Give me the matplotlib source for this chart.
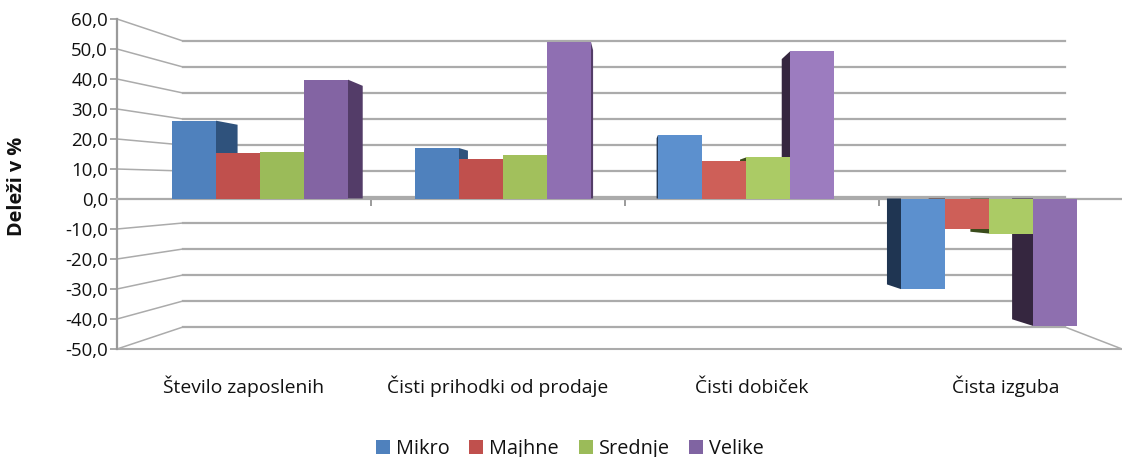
import matplotlib
matplotlib.use("Agg")
import matplotlib.pyplot as plt
from matplotlib.patches import Polygon, Patch

categories = ["Število zaposlenih", "Čisti prihodki od prodaje", "Čisti dobiček", "Čista izguba"]
series_names = ["Mikro", "Majhne", "Srednje", "Velike"]
mikro = [27.3, 17.7, 22.3, -31.8]
majhne = [16.1, 14.0, 13.0, -10.7]
srednje = [16.3, 15.4, 14.4, -12.3]
velike = [41.7, 54.9, 51.6, -44.7]
y_ticks = [60, 50, 40, 30, 20, 10, 0, -10, -20, -30, -40, -50]

legend_colors = ["#4F81BD", "#C0504D", "#9BBB59", "#8064A2"]
face_colors = [
    ["#4F81BD", "#4F81BD", "#5C90CE", "#5C90CE"],
    ["#C0504D", "#C0504D", "#CE5F58", "#CE5F58"],
    ["#9BBB59", "#A2C05C", "#ABCB65", "#ABCB65"],
    ["#8364A3", "#8F6FB2", "#9C7CBF", "#8E6FAF"],
]
side_colors = [
    ["#2F527C", "#2F527C", "#1F3552", "#1F3552"],
    ["#7C2F2D", "#7C2F2D", "#4A2220", "#4A2220"],
    ["#5F7A30", "#5F7A30", "#3A4C1C", "#3A4C1C"],
    ["#533C68", "#533C68", "#35263F", "#35263F"],
]

W, H = 1122, 457
plt.rcParams["font.family"] = ["Open Sans", "DejaVu Sans"]
fig = plt.figure(figsize=(W / 100, H / 100), dpi=100)

GRID = "#ABABAB"
L, R = 117, 1122
TOP, BOT = 19, 349
BACK_L, BACK_R = 183, 1065
BACK_ZERO, BACK_K = 197, 2.6
CAT_W = 254

# wall, gridlines and axes
ax = fig.add_axes([L / W, 1 - BOT / H, (R - L) / W, (BOT - TOP) / H])
ax.set_xlim(0, (R - L) / CAT_W)
ax.set_ylim(-50, 60)
ax.patch.set_alpha(0)
zero_px = TOP + 60 * (BOT - TOP) / 110
scale = (BOT - TOP) / 110


def xf(px):
    return (px - L) / CAT_W


def back_v(v):
    return (zero_px - (BACK_ZERO - BACK_K * v)) / scale


for v in y_ticks:
    bv = back_v(v)
    ax.plot([xf(BACK_L), xf(BACK_R)], [bv, bv], color=GRID, lw=1.6, clip_on=False, zorder=1)
    if v != 0:
        ax.plot([0, xf(BACK_L)], [v, bv], color=GRID, lw=1.1, clip_on=False, zorder=1)
bv = back_v(-50)
ax.plot([xf(BACK_R), xf(R)], [bv, -50], color=GRID, lw=1.1, clip_on=False, zorder=1)
ax.plot([0, xf(R)], [-50, -50], color=GRID, lw=1.5, clip_on=False, zorder=1)

for s in ["top", "right"]:
    ax.spines[s].set_visible(False)
ax.spines["left"].set_color("#9A9A9A")
ax.spines["left"].set_linewidth(1.6)
ax.spines["bottom"].set_position(("data", 0))
ax.spines["bottom"].set_color(GRID)
ax.spines["bottom"].set_linewidth(1.6)
ax.set_yticks(y_ticks)
ax.set_yticklabels([f"{v:.1f}".replace(".", ",") for v in y_ticks], fontsize=13.4, color="#111111")
ax.tick_params(axis="y", length=5, width=1.2, color="#9A9A9A", pad=1.5)
ax.set_xticks(range(4))
ax.set_xticklabels([])
ax.tick_params(axis="x", which="major", length=5, width=1.2, color="#8A8A8A")
ax.set_xticks([i + 0.5 for i in range(4)], minor=True)
ax.set_xticklabels(categories, minor=True, fontsize=13.9, color="#111111", va="baseline")
ax.tick_params(axis="x", which="minor", length=0, pad=140)

fig.text(17 / W, 1 - 186 / H, "Deleži v %", rotation=90, ha="center", va="center",
         fontsize=14.3, fontweight="bold", color="#111111")

# bars
BAR_ZERO, BAR_K = 198.5, 2.85
CAT0, CAT_STEP, BAR_W = 260, 243, 44
VP, DEPTH = 631, 0.052
bx = fig.add_axes([0, 0, 1, 1])
bx.patch.set_alpha(0)
bx.axis("off")
bx.set_xlim((0 - CAT0) / CAT_STEP, (W - CAT0) / CAT_STEP)
bx.set_ylim((BAR_ZERO - H) / BAR_K, BAR_ZERO / BAR_K)

vp_x = (VP - CAT0) / CAT_STEP
w = BAR_W / CAT_STEP
series = [mikro, majhne, srednje, velike]
for s, vals in enumerate(series):
    for c, v in enumerate(vals):
        x0 = c + (s - 2) * w
        x1 = x0 + w
        edge = x1 if x1 < vp_x else x0
        back = edge + DEPTH * (vp_x - edge)
        bx.add_patch(Polygon([(edge, 0), (edge, v), (back, v * (1 - DEPTH)), (back, 0)],
                             closed=True, facecolor=side_colors[s][c], edgecolor="none", zorder=2))
for s, vals in enumerate(series):
    bx.bar([c + (s - 2) * w for c in range(4)], vals, width=w, align="edge",
           color=face_colors[s], edgecolor="none", zorder=3)

fig.legend(handles=[Patch(facecolor=col, edgecolor="none", label=n) for n, col in zip(series_names, legend_colors)],
           loc="center", bbox_to_anchor=(570 / W, 1 - 449 / H), ncol=4, frameon=False,
           fontsize=14.3, handlelength=0.7, handleheight=0.7, handletextpad=0.3, columnspacing=1.0,
           labelcolor="#111111")

fig.savefig("out.png", dpi=100)
